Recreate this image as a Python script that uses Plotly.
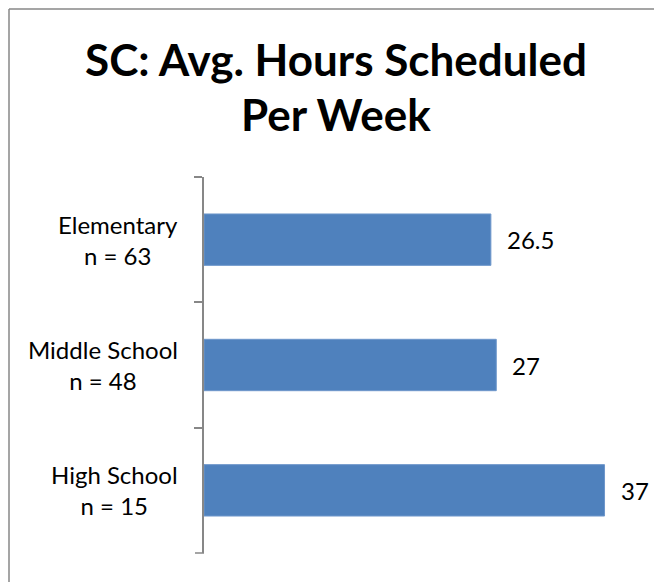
import plotly.graph_objects as go

categories = ["Elementary", "Middle School", "High School"]
counts = [63, 48, 15]
hours = [26.5, 27, 37]
x_max = 40
title_lines = ["SC: Avg. Hours Scheduled", "Per Week"]

# the page adds an 8px body margin, so the figure is sized to the visible area
OFF = 8
W, H = 662 - OFF, 582 - OFF
margin = dict(l=204 - OFF, r=25, t=177 - OFF, b=29)
plot_w = W - margin["l"] - margin["r"]
plot_h = H - margin["t"] - margin["b"]
grey = "#878787"
font = "Lato"


def px_to_paper_x(px):
    return (px - OFF - margin["l"]) / plot_w


def px_to_paper_y(py):
    return 1 - (py - OFF - margin["t"]) / plot_h


fig = go.Figure(
    go.Bar(
        x=hours,
        y=categories,
        orientation="h",
        marker=dict(color="#4F81BD", line=dict(color="#6E97CB", width=1)),
        hoverinfo="skip",
    )
)

# value labels to the right of each bar
for cat, val in zip(categories, hours):
    fig.add_annotation(
        x=val, y=cat, text=f"{val:g}", showarrow=False,
        xanchor="left", xshift=14, font=dict(family=font, size=24, color="black"),
    )

# category labels, two centred lines each
for cat, n in zip(categories, counts):
    fig.add_annotation(
        x=0, xref="paper", y=cat, text=f"{cat}<br>n = {n}", showarrow=False,
        xanchor="right", xshift=-24, align="center",
        font=dict(family=font, size=24, color="black"),
    )

# title, one annotation per line
for line, cy in zip(title_lines, [59, 114]):
    fig.add_annotation(
        x=px_to_paper_x(336), xref="paper", y=px_to_paper_y(cy), yref="paper",
        text=f"<b>{line}</b>", showarrow=False, xanchor="center", yanchor="middle",
        font=dict(family=font, size=44, color="black"),
    )

# frame of the chart box (left and top edges visible)
fig.add_shape(type="line", xref="paper", yref="paper",
              x0=px_to_paper_x(OFF + 1), x1=px_to_paper_x(700),
              y0=px_to_paper_y(OFF + 1), y1=px_to_paper_y(OFF + 1),
              line=dict(color=grey, width=1.5))
fig.add_shape(type="line", xref="paper", yref="paper",
              x0=px_to_paper_x(OFF + 1), x1=px_to_paper_x(OFF + 1),
              y0=px_to_paper_y(OFF + 1), y1=px_to_paper_y(700),
              line=dict(color=grey, width=1.5))
# closing tick at the bottom end of the category axis
fig.add_shape(type="line", xref="paper", yref="paper",
              x0=px_to_paper_x(195), x1=0, y0=0, y1=0,
              line=dict(color=grey, width=1.5))

fig.update_layout(
    width=W, height=H, margin=margin,
    paper_bgcolor="white", plot_bgcolor="white",
    showlegend=False, bargap=0.59,
)
fig.update_xaxes(range=[0, x_max], visible=False)
fig.update_yaxes(
    autorange="reversed", showticklabels=False, showgrid=False,
    showline=True, linecolor=grey, linewidth=1.5,
    ticks="outside", tickson="boundaries", ticklen=8, tickcolor=grey, tickwidth=1.5,
)

fig.write_html("out.html")
